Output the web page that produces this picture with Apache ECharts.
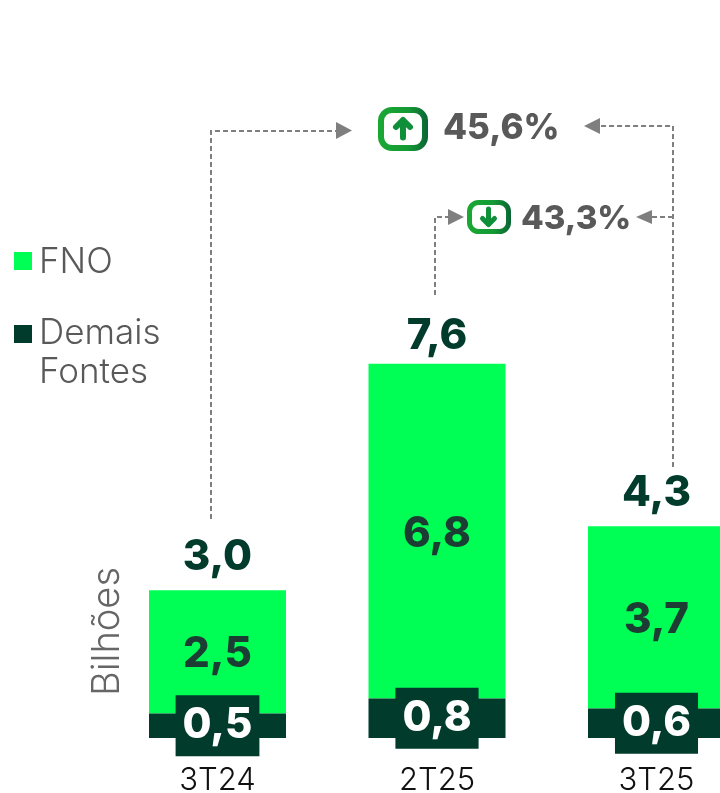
<!DOCTYPE html>
<html><head><meta charset="utf-8">
<style>html,body{margin:0;padding:0;background:#fff}#c{width:720px;height:793px}</style>
<script src="https://cdn.jsdelivr.net/npm/echarts@6/dist/echarts.min.js"></script>
</head><body><div id="c"></div>
<script>
const categories = ['3T24', '2T25', '3T25'];
const fno = [2.5, 6.8, 3.7];
const demais = [0.5, 0.8, 0.6];
const totals = [3.0, 7.6, 4.3];
const changes = ['45,6%', '43,3%'];
const axisName = 'Bilhões';

const FONT = 'Inter';
const GREEN = '#00ff55', DARK = '#003b2c', GREY = '#595959', DASH = '#7f7f7f';
const fmt = v => v.toFixed(1).replace('.', ',');
const chart = echarts.init(document.getElementById('c'), null, {renderer: 'canvas'});
const grad = () => new echarts.graphic.LinearGradient(0, 0, 1, 0, [{offset: 0, color: '#1aa834'}, {offset: 0.6, color: '#149a35'}, {offset: 1, color: '#0b6535'}]);
const dashed = pts => ({type: 'polyline', shape: {points: pts}, silent: true, style: {stroke: DASH, lineWidth: 2, lineDash: [5, 3], fill: null}});
const tri = pts => ({type: 'polygon', shape: {points: pts}, silent: true, style: {fill: DASH}});
const stroke = (pts, w) => ({type: 'polyline', shape: {points: pts}, silent: true, style: {stroke: '#0f8f3a', lineWidth: w, lineCap: 'round', lineJoin: 'round', fill: null}});

chart.setOption({
  backgroundColor: '#fff',
  animation: false,
  grid: {left: 107.75, width: 658.5, top: 147, height: 591, outerBoundsMode: 'none'},
  xAxis: {
    type: 'category', data: categories,
    axisLine: {show: false}, axisTick: {show: false},
    axisLabel: {color: '#111', fontFamily: FONT, fontSize: 31, fontWeight: 300, margin: 27}
  },
  yAxis: {
    type: 'value', min: 0, max: 12, splitLine: {show: false},
    axisLine: {show: false}, axisTick: {show: false}, axisLabel: {show: false},
    name: axisName, nameLocation: 'start', nameRotate: 90, nameGap: -171,
    nameTextStyle: {color: '#666', fontFamily: FONT, fontSize: 38, fontWeight: 300}
  },
  legend: [
    {left: 14, top: 243, padding: 0, orient: 'vertical', data: ['FNO'], itemWidth: 18, itemHeight: 38, itemGap: 0,
     icon: 'path://M0 9H18V27H0Z M0 0H0.01V0.01H0Z M18 38H18.01V38.01H18Z',
     selectedMode: false, textStyle: {color: GREY, fontFamily: FONT, fontSize: 35, fontWeight: 300, padding: [0, 0, 0, 2]}},
    {left: 14, top: 314, padding: 0, orient: 'vertical', data: ['Demais Fontes'], itemWidth: 18, itemHeight: 78, itemGap: 0,
     icon: 'path://M0 11H18V29H0Z M0 0H0.01V0.01H0Z M18 78H18.01V78.01H18Z',
     formatter: () => 'Demais\nFontes',
     selectedMode: false, textStyle: {color: GREY, fontFamily: FONT, fontSize: 35, fontWeight: 300, lineHeight: 39, padding: [0, 0, 0, 2]}}
  ],
  series: [
    {name: 'Demais Fontes', type: 'bar', stack: 'a', barWidth: 137, data: demais, itemStyle: {color: DARK}, z: 2,
     label: {show: true, position: 'inside', formatter: p => fmt(p.value), color: '#fff', fontFamily: FONT, fontSize: 42, fontWeight: 800, backgroundColor: DARK, padding: [11.5, 7, 7.5, 7]}},
    {name: 'FNO', type: 'bar', stack: 'a', barWidth: 137, data: fno, itemStyle: {color: GREEN}, z: 1,
     label: {show: true, position: 'inside', offset: [0, 3], formatter: p => fmt(p.value), color: '#1c3d33', fontFamily: FONT, fontSize: 42, fontWeight: 800}},
    {name: 'Total', type: 'scatter', data: totals.map((v, i) => ({value: v, label: {distance: i === 1 ? 6 : 12}})), symbolSize: 0, itemStyle: {color: DARK, opacity: 1}, z: 3,
     label: {show: true, position: 'top', formatter: p => fmt(p.value), color: DARK, fontFamily: FONT, fontSize: 42, fontWeight: 800}}
  ],
  graphic: [
    dashed([[211, 519], [211, 131], [337, 131]]),
    tri([[336, 122], [352, 130.5], [336, 139]]),
    dashed([[673, 467], [673, 126], [600, 126]]),
    tri([[600, 118], [584, 126], [600, 134]]),
    dashed([[435, 295], [435, 217], [449, 217]]),
    tri([[448, 209], [464, 217], [448, 225]]),
    dashed([[673, 217], [652, 217]]),
    tri([[652, 210], [636, 217], [652, 224]]),
    {type: 'rect', shape: {x: 381, y: 110, width: 44, height: 38, r: 11}, silent: true, style: {stroke: grad(), lineWidth: 6, fill: '#fff'}},
    stroke([[403, 137.5], [403, 120.5]], 6), stroke([[396, 127], [403, 120], [410, 127]], 6),
    {type: 'rect', shape: {x: 469.5, y: 202.5, width: 39, height: 29, r: 9}, silent: true, style: {stroke: grad(), lineWidth: 5, fill: '#fff'}},
    stroke([[488.5, 209], [488.5, 224]], 5), stroke([[482.5, 218.5], [488.5, 224.5], [494.5, 218.5]], 5),
    {type: 'text', x: 443, y: 128, silent: true, style: {text: changes[0], fill: GREY, font: '800 35px ' + FONT, textVerticalAlign: 'middle'}},
    {type: 'text', x: 521, y: 219, silent: true, style: {text: changes[1], fill: GREY, font: '800 33px ' + FONT, textVerticalAlign: 'middle'}}
  ]
});
</script></body></html>
